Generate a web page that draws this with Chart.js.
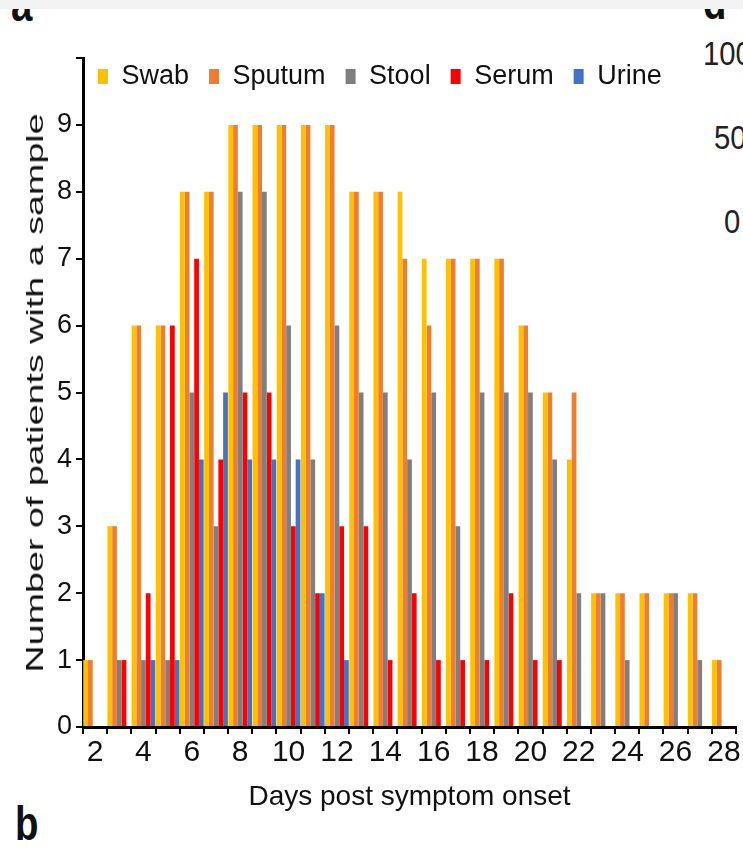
<!DOCTYPE html>
<html>
<head>
<meta charset="utf-8">
<script src="https://cdn.jsdelivr.net/npm/chart.js@4.4.1/dist/chart.umd.min.js"></script>
<style>
  html, body { margin: 0; padding: 0; background: #fff; }
  body { width: 743px; height: 852px; position: relative; overflow: hidden; font-family: 'Liberation Sans', Arial, sans-serif; color: #111; }
  #wrap { position: absolute; left: 0; top: 0; width: 743px; height: 852px; }
  .strip { position: absolute; left: 0; top: 0; width: 743px; height: 9px; background: #f3f3f3; z-index: 3; }
  .panel { position: absolute; font-weight: bold; font-size: 48px; line-height: 1; transform-origin: 0 0; transform: scaleX(0.8); }
  .side { position: absolute; font-size: 34px; line-height: 1; color: #222; transform-origin: 0 0; transform: scaleX(0.86); }
  #ytitle { position: absolute; left: 35px; top: 393px; white-space: nowrap; font-size: 24px; line-height: 1;
            transform: translate(-50%, -50%) rotate(-90deg) scaleX(1.57); }
</style>
</head>
<body>
<div class="strip"></div>
<div class="panel" style="left:11px; top:-19px;">a</div>
<div class="panel" style="left:703px; top:-21px;">d</div>
<div class="panel" style="left:15px; top:800px;">b</div>
<div class="side" style="left:703px; top:36px;">100</div>
<div class="side" style="left:714px; top:120px;">50</div>
<div class="side" style="left:724px; top:204px;">0</div>
<div id="wrap"><canvas id="chart" width="743" height="852"></canvas></div>
<div id="ytitle">Number of patients with a sample</div>

<script>
  // days post symptom onset (one group per day)
  const days = [2, 3, 4, 5, 6, 7, 8, 9, 10, 11, 12, 13, 14, 15, 16, 17, 18, 19, 20, 21, 22, 23, 24, 25, 26, 27, 28];

  // number of patients with a sample, per sample type
  const swab   = [1, 3, 6, 6, 8, 8, 9, 9, 9, 9, 9, 8, 8, 8, 7, 7, 7, 7, 6, 5, 4, 2, 2, 2, 2, 2, 1];
  const sputum = [1, 3, 6, 6, 8, 8, 9, 9, 9, 9, 9, 8, 8, 7, 6, 7, 7, 7, 6, 5, 5, 2, 2, 2, 2, 2, 1];
  const stool  = [0, 1, 1, 1, 5, 3, 8, 8, 6, 4, 6, 5, 5, 4, 5, 3, 5, 5, 5, 4, 2, 2, 1, 0, 2, 1, 0];
  const serum  = [0, 1, 2, 6, 7, 4, 5, 5, 3, 2, 3, 3, 1, 2, 1, 1, 1, 2, 1, 1, 0, 0, 0, 0, 0, 0, 0];
  const urine  = [0, 0, 1, 1, 4, 5, 4, 4, 4, 2, 1, 0, 0, 0, 0, 0, 0, 0, 0, 0, 0, 0, 0, 0, 0, 0, 0];

  const yMax = 10;

  const font = "'Liberation Sans', Arial, sans-serif";

  // legend is laid out above the plot, then pulled down inside it
  const legendInside = {
    id: 'legendInside',
    afterLayout(chart) {
      const lg = chart.legend;
      const h = lg.bottom - lg.top;
      lg.top = chart.chartArea.top - 15;
      lg.bottom = lg.top + h;
      lg.left -= 5;
      lg.right -= 5;
    }
  };

  const ctx = document.getElementById('chart').getContext('2d');
  new Chart(ctx, {
    type: 'bar',
    data: {
      labels: days.map(String),
      datasets: [
        { label: 'Swab',   data: swab,   backgroundColor: '#FFC000' },
        { label: 'Sputum', data: sputum, backgroundColor: '#ED7D31' },
        { label: 'Stool',  data: stool,  backgroundColor: '#7F7F7F' },
        { label: 'Serum',  data: serum,  backgroundColor: '#FF0000' },
        { label: 'Urine',  data: urine,  backgroundColor: '#4472C4' }
      ]
    },
    options: {
      responsive: false,
      animation: false,
      layout: { padding: { top: 1, right: 7, left: 0, bottom: 0 } },
      datasets: { bar: { categoryPercentage: 0.98, barPercentage: 1, borderWidth: 0 } },
      plugins: {
        tooltip: { enabled: false },
        legend: {
          position: 'top',
          align: 'start',
          fullSize: false,
          labels: {
            boxWidth: 10,
            boxHeight: 15,
            padding: 20,
            color: '#111',
            font: { size: 27, family: font }
          }
        }
      },
      scales: {
        x: {
          grid: { display: true, drawOnChartArea: false, drawTicks: true, tickLength: 7, color: '#000', lineWidth: 2, offset: true },
          border: { display: true, color: '#000', width: 3 },
          ticks: {
            autoSkip: false,
            maxRotation: 0,
            padding: 1,
            color: '#111',
            font: { size: 30, family: font },
            callback: (v, i) => (days[i] % 2 === 0 ? String(days[i]) : '')
          },
          title: {
            display: true,
            text: 'Days post symptom onset',
            color: '#111',
            font: { size: 28, family: font },
            padding: { top: 0, bottom: 38 }
          },
          afterFit: (s) => { s.height = 125; }
        },
        y: {
          min: 0,
          max: yMax,
          grid: { drawOnChartArea: false, drawTicks: true, tickLength: 7, color: '#000', lineWidth: 2 },
          border: { display: true, color: '#000', width: 3 },
          ticks: {
            stepSize: 1,
            padding: 4,
            color: '#111',
            font: { size: 27, family: font },
            callback: (v) => (v < yMax ? String(v) : '')
          },
          afterFit: (s) => { s.width = 83; }
        }
      }
    },
    plugins: [legendInside]
  });
</script>
</body>
</html>
